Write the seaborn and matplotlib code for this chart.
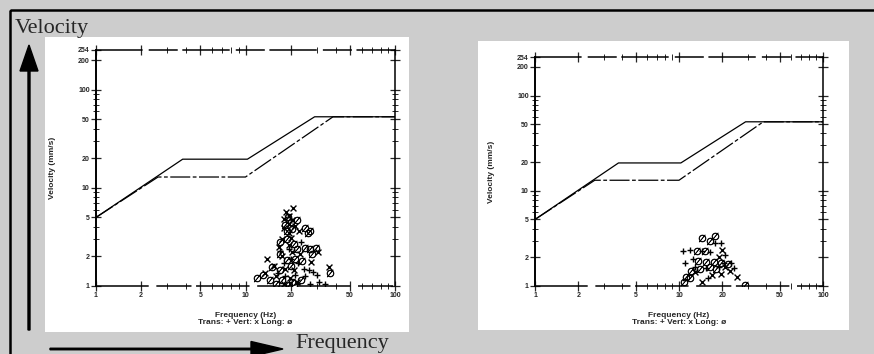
import matplotlib
matplotlib.use("Agg")
import matplotlib.pyplot as plt
import seaborn as sns
import pandas as pd
from matplotlib.patches import Rectangle
from matplotlib.ticker import FixedLocator, LogLocator, NullFormatter, FixedFormatter


# ------------------------------
# Data
# ------------------------------

# USBM style limit curves (frequency Hz, velocity mm/s)
upper_freq = [1, 3.8, 10.3, 29, 100]
upper_vel = [5, 19.6, 19.6, 53, 53]
lower_freq = [1, 2.6, 10.0, 38.5, 100]
lower_vel = [5, 12.9, 12.9, 53, 53]

x_ticks = [1, 2, 5, 10, 20, 50, 100]
y_ticks = [1, 2, 5, 10, 20, 50, 100, 200, 254]

# left chart measurements
left_trans_f = [18.0, 20.0, 22.5, 24.5, 26.5, 28.5, 30.0, 25.0, 21.5, 18.5, 16.5, 22.0, 27.0, 31.0, 34.0, 17.0, 19.5, 23.5]
left_trans_v = [1.7, 1.9, 1.7, 1.5, 1.45, 1.4, 1.3, 1.25, 1.3, 1.25, 1.35, 1.05, 1.05, 1.1, 1.05, 2.3, 2.4, 2.8]
left_vert_f = [18.6, 20.9, 19.5, 18.2, 20.5, 19.4, 21.5, 18.0, 19.5, 22.8, 17.5, 20.0, 16.8, 19.5, 14.0,
               17.5, 20.5, 23.0, 30.5, 27.5, 15.5, 18.5, 21.0, 16.0, 19.8, 22.0, 36.0, 13.5, 18.0]
left_vert_v = [5.7, 6.2, 5.2, 4.8, 4.7, 4.3, 4.1, 3.9, 3.5, 3.6, 3.0, 3.1, 2.5, 2.6, 1.9,
               2.0, 2.2, 2.1, 2.2, 1.75, 1.6, 1.5, 1.45, 1.25, 1.2, 1.1, 1.55, 1.35, 1.05]
left_long_f = [19.2, 20.3, 22.0, 18.5, 19.0, 20.5, 25.0, 26.0, 27.0, 17.0, 19.0, 21.0, 22.0, 25.0, 27.0,
               29.5, 28.0, 17.0, 19.0, 21.5, 24.0, 15.0, 17.0, 20.0, 13.0, 12.0, 14.5, 17.5, 20.5, 23.5,
               36.5, 16.0, 19.5]
left_long_v = [5.0, 4.5, 4.7, 4.2, 3.6, 3.8, 3.9, 3.5, 3.6, 2.8, 3.0, 2.7, 2.4, 2.45, 2.4,
               2.45, 2.1, 2.1, 1.85, 1.9, 1.8, 1.55, 1.45, 1.6, 1.3, 1.2, 1.15, 1.15, 1.1, 1.15,
               1.35, 1.05, 1.02]

# right chart measurements
right_trans_f = [17.9, 19.5, 10.7, 11.9, 14.5, 16.4, 21.0, 11.0, 13.0, 20.5, 23.0, 24.0, 15.5, 12.5, 16.0, 19.0]
right_trans_v = [2.8, 2.8, 2.35, 2.4, 2.35, 2.3, 2.1, 1.75, 1.6, 1.75, 1.75, 1.55, 1.55, 1.9, 1.2, 1.6]
right_vert_f = [19.8, 19.0, 17.0, 19.5, 25.2, 14.5, 22.5, 21.0, 13.0]
right_vert_v = [2.4, 2.0, 1.3, 1.35, 1.25, 1.1, 1.45, 1.6, 1.4]
right_long_f = [14.5, 17.8, 16.4, 13.3, 15.2, 13.5, 15.5, 17.5, 19.5, 22.0, 12.2, 14.0, 18.0, 11.2, 12.0,
                10.8, 28.7, 16.5]
right_long_v = [3.2, 3.35, 3.0, 2.35, 2.35, 1.85, 1.8, 1.8, 1.75, 1.7, 1.45, 1.5, 1.5, 1.25, 1.2,
                1.1, 1.02, 1.6]


# ------------------------------
# Style
# ------------------------------

sns.set_style("ticks")
plt.rcParams["font.family"] = ["Liberation Sans", "DejaVu Sans"]

W, H = 874, 354
fig = plt.figure(figsize=(W / 100, H / 100), dpi=100)
fig.patch.set_facecolor("#cdcdcd")

# background layer in pixel coordinates
bg = fig.add_axes([0, 0, 1, 1], zorder=0)
bg.set_xlim(0, W)
bg.set_ylim(H, 0)
bg.axis("off")

bg.add_patch(Rectangle((10, 10), W + 20, H + 20, fill=False, edgecolor="black", lw=1.8))
bg.add_patch(Rectangle((45, 37), 364, 295, facecolor="white", edgecolor="none"))
bg.add_patch(Rectangle((478, 41), 371, 289, facecolor="white", edgecolor="none"))

bg.text(15, 33, "Velocity", family="Liberation Serif", fontsize=16, va="baseline", ha="left")
bg.text(295, 348, "Frequency", family="Liberation Serif", fontsize=16, va="baseline", ha="left")

bg.arrow(29, 330, 0, -285, width=2, head_width=18, head_length=26,
         length_includes_head=True, color="black")
bg.arrow(50, 349, 233, 0, width=1.5, head_width=15, head_length=32,
         length_includes_head=True, color="black")


def to_rect(x0, y_top, x1, y_bot):
    return [x0 / W, (H - y_bot) / H, (x1 - x0) / W, (y_bot - y_top) / H]


def draw_panel(ax, trans_f, trans_v, vert_f, vert_v, long_f, long_v):
    ax.set_facecolor("none")

    curves = pd.DataFrame({
        "freq": upper_freq + lower_freq,
        "vel": upper_vel + lower_vel,
        "curve": ["upper"] * len(upper_freq) + ["lower"] * len(lower_freq),
    })
    sns.lineplot(data=curves[curves.curve == "upper"], x="freq", y="vel",
                 color="black", lw=0.9, estimator=None, ax=ax)
    sns.lineplot(data=curves[curves.curve == "lower"], x="freq", y="vel",
                 color="black", lw=0.9, estimator=None, ax=ax)
    ax.lines[-1].set_dashes([16, 2, 3, 2])

    sns.scatterplot(x=trans_f, y=trans_v, marker="+", s=24, color="black", linewidth=1.0, ax=ax)
    sns.scatterplot(x=vert_f, y=vert_v, marker="x", s=18, color="black", linewidth=1.0, ax=ax)
    sns.scatterplot(x=long_f, y=long_v, marker=r"$\emptyset$", s=26, color="black",
                    edgecolor="black", linewidth=0.4, ax=ax)

    ax.set(xscale="log", yscale="log", xlim=(1, 100), ylim=(1, 254))

    ax.xaxis.set_major_locator(FixedLocator(x_ticks))
    ax.xaxis.set_major_formatter(FixedFormatter([str(t) for t in x_ticks]))
    ax.yaxis.set_major_locator(FixedLocator(y_ticks))
    ax.yaxis.set_major_formatter(FixedFormatter([str(t) for t in y_ticks]))
    ax.xaxis.set_minor_locator(LogLocator(subs=(3, 4, 6, 7, 8, 9)))
    ax.yaxis.set_minor_locator(LogLocator(subs=(3, 4, 6, 7, 8, 9)))
    ax.xaxis.set_minor_formatter(NullFormatter())
    ax.yaxis.set_minor_formatter(NullFormatter())

    ax.tick_params(which="major", direction="inout", length=7, width=0.9,
                   top=True, right=True, labelsize=5, pad=1)
    ax.tick_params(which="minor", direction="inout", length=4, width=0.7,
                   top=True, right=True)
    for lab in ax.get_xticklabels() + ax.get_yticklabels():
        lab.set_fontweight("bold")

    for side in ["left", "right", "top", "bottom"]:
        ax.spines[side].set_visible(True)
        ax.spines[side].set_linewidth(1.1)
        ax.spines[side].set_color("black")
    ax.spines["left"].set_linewidth(1.4)
    ax.spines["top"].set_linestyle((0, (30, 5, 18, 4)))
    ax.spines["bottom"].set_linestyle((0, (34, 6, 22, 4)))

    ax.set_xlabel("Frequency (Hz)\nTrans: + Vert: x Long: ø", fontsize=6,
                  fontweight="bold", labelpad=9, linespacing=1.1)
    ax.set_ylabel("Velocity (mm/s)", fontsize=6, fontweight="bold", labelpad=16)


# ------------------------------
# Panels
# ------------------------------

ax1 = fig.add_axes(to_rect(96, 50, 395, 286), zorder=2)
draw_panel(ax1, left_trans_f, left_trans_v, left_vert_f, left_vert_v, left_long_f, left_long_v)

ax2 = fig.add_axes(to_rect(535, 57, 823, 286), zorder=2)
draw_panel(ax2, right_trans_f, right_trans_v, right_vert_f, right_vert_v, right_long_f, right_long_v)

plt.savefig("out.png", dpi=100, facecolor=fig.get_facecolor())
